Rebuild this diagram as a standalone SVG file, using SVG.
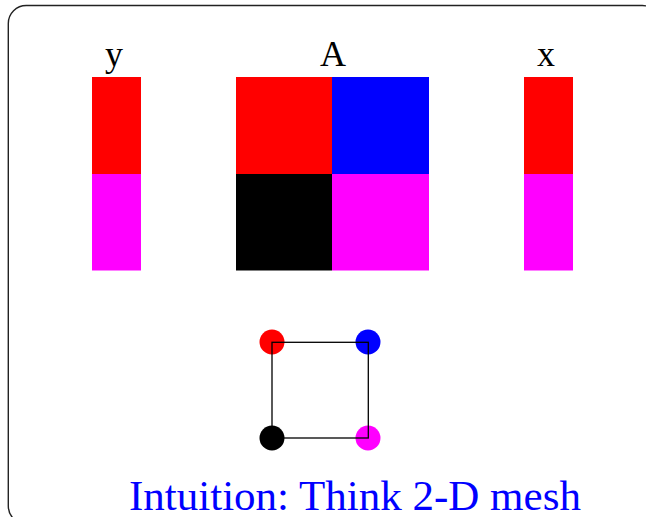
<svg xmlns="http://www.w3.org/2000/svg" width="646" height="517" viewBox="0 0 646 517">
  <style>
    .lbl { font-family: "Liberation Serif", "Times New Roman", serif; font-size: 36px; fill: #000; text-anchor: middle; }
    .title { font-family: "Liberation Serif", "Times New Roman", serif; font-size: 43px; fill: #0000ff; }
    .edge { fill: none; stroke: #000; stroke-width: 1.3; }
  </style>
  <rect x="8.3" y="5.5" width="652" height="518.5" rx="18" ry="18" fill="#fff" stroke="#222" stroke-width="1.4"/>

  <g id="vector-y">
    <text class="lbl" x="114" y="66">y</text>
    <rect x="92" y="77" width="49" height="97" fill="#ff0000"/>
    <rect x="92" y="174" width="49" height="96.5" fill="#ff00ff"/>
  </g>

  <g id="matrix-A">
    <text class="lbl" x="333" y="66">A</text>
    <rect x="236" y="77" width="96" height="97" fill="#ff0000"/>
    <rect x="332" y="77" width="97" height="97" fill="#0000ff"/>
    <rect x="236" y="174" width="96" height="96.5" fill="#000000"/>
    <rect x="332" y="174" width="97" height="96.5" fill="#ff00ff"/>
  </g>

  <g id="vector-x">
    <text class="lbl" x="546" y="66">x</text>
    <rect x="524" y="77" width="49" height="97" fill="#ff0000"/>
    <rect x="524" y="174" width="49" height="96.5" fill="#ff00ff"/>
  </g>

  <g id="node-red"><circle cx="272" cy="342" r="12.5" fill="#ff0000"/></g>
  <g id="node-blue"><circle cx="368" cy="342" r="12.5" fill="#0000ff"/></g>
  <g id="node-black"><circle cx="272" cy="438" r="12.5" fill="#000000"/></g>
  <g id="node-magenta"><circle cx="368" cy="438" r="12.5" fill="#ff00ff"/></g>

  <g id="connectors">
    <rect class="edge" x="272" y="342.3" width="96.3" height="95.7"/>
  </g>

  <g id="caption">
    <text class="title" x="129" y="510">Intuition: Think 2-D mesh</text>
  </g>
</svg>
